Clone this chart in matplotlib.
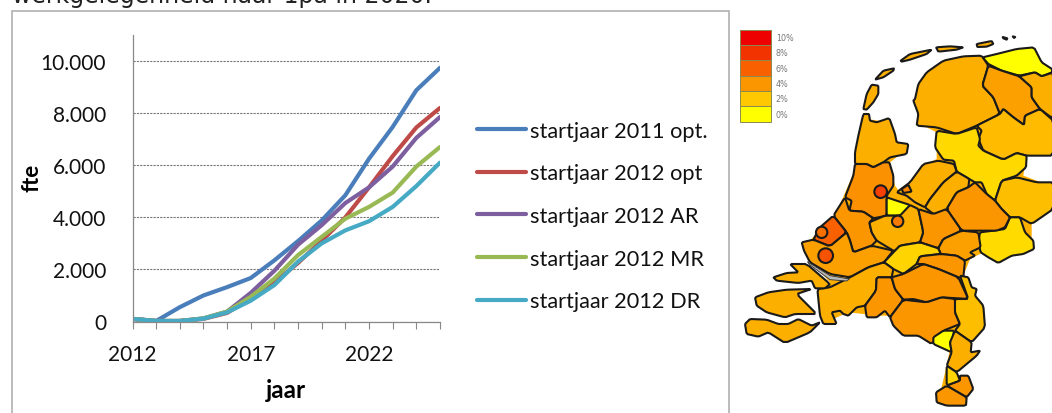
import matplotlib
matplotlib.use('Agg')
import matplotlib.pyplot as plt
from matplotlib.colors import LinearSegmentedColormap
from matplotlib.patches import Rectangle, Polygon, Circle

W, H = 1052, 414

# line chart
years = list(range(2012, 2026))
start_2011_opt = [100, 20, 550, 1000, 1320, 1670, 2350, 3090, 3880, 4850, 6250, 7470, 8880, 9740]
start_2012_opt = [100, 20, 20, 100, 330, 900, 1500, 2250, 3100, 4000, 5150, 6350, 7450, 8200]
start_2012_ar = [100, 20, 20, 120, 380, 1100, 1950, 2950, 3700, 4550, 5150, 5950, 7050, 7850]
start_2012_mr = [100, 20, 20, 120, 380, 950, 1650, 2550, 3250, 3950, 4400, 4950, 5950, 6700]
start_2012_dr = [100, 20, 20, 110, 350, 800, 1400, 2300, 3000, 3500, 3850, 4400, 5200, 6100]
series_labels = ['startjaar 2011 opt.', 'startjaar 2012 opt', 'startjaar 2012 AR',
                 'startjaar 2012 MR', 'startjaar 2012 DR']
series_colors = ['#4a7ebb', '#be4b48', '#7d5fa0', '#98b954', '#46aac5']
y_ticks = [0, 2000, 4000, 6000, 8000, 10000]
y_tick_labels = ['0', '2.000', '4.000', '6.000', '8.000', '10.000']
x_label_years = [2012, 2017, 2022]

# map: share per region, outlines
legend_shares = [10, 8, 6, 4, 2, 0]
legend_colors = ['#ee0000', '#f23300', '#f86000', '#fb9600', '#ffc800', '#ffff00']

regions = {
    'Texel': (3, [(400, 270), (410, 225), (425, 197), (445, 200), (445, 225), (430, 250), (410, 272)]),
    'Vlieland': (3, [(435, 182), (460, 155), (492, 148), (490, 155), (460, 175)]),
    'Terschelling': (3, [(512, 125), (540, 105), (605, 92), (590, 105), (540, 122), (515, 128)]),
    'Ameland': (3, [(618, 85), (660, 82), (700, 85), (680, 92), (625, 98)]),
    'Schiermonnikoog': (3, [(740, 75), (785, 66), (790, 75), (770, 83), (742, 84)]),
    'Rottum1': (3, [(818, 54), (832, 58), (830, 62), (820, 58)]),
    'Rottum2': (3, [(848, 52), (856, 54), (852, 57)]),
    'Friesland': (3, [(555, 240), (565, 195), (590, 160), (640, 125), (700, 112), (755, 110), (775, 140),
                      (757, 200), (790, 235), (810, 285), (740, 320), (680, 345), (620, 325), (560, 320),
                      (565, 285), (550, 245)]),
    'Noord-Groningen': (0, [(758, 115), (800, 105), (860, 90), (912, 85), (935, 130), (966, 150), (966, 160),
                            (935, 172), (915, 160), (868, 170), (815, 155), (775, 135)]),
    'Overig Groningen': (3.6, [(775, 140), (815, 155), (868, 172), (905, 205), (905, 235), (930, 270), (885, 290),
                               (882, 318), (850, 295), (820, 270), (810, 285), (790, 235), (757, 200)]),
    'Oost-Groningen': (3, [(868, 172), (915, 160), (935, 172), (970, 160), (970, 300), (930, 270), (905, 235),
                           (905, 205)]),
    'Drenthe': (2.5, [(810, 285), (820, 270), (850, 295), (882, 318), (885, 290), (930, 270), (970, 305),
                      (970, 410), (890, 410), (860, 402), (820, 422), (760, 395), (745, 360), (755, 335),
                      (740, 320)]),
    'Noord-Overijssel': (1.4, [(620, 335), (680, 345), (740, 325), (750, 360), (745, 380), (760, 395), (820, 422),
                               (860, 402), (890, 410), (888, 445), (860, 470), (815, 485), (795, 545), (770, 525),
                               (755, 490), (735, 490), (718, 480), (680, 458), (672, 425), (640, 422), (615, 385)]),
    'Twente': (2.4, [(795, 545), (815, 485), (860, 475), (920, 490), (970, 490), (970, 570), (905, 615), (870, 595),
                     (840, 595), (815, 570)]),
    'Achterhoek': (1.3, [(750, 640), (790, 635), (825, 630), (840, 595), (870, 595), (885, 640), (910, 665),
                         (912, 690), (880, 705), (845, 710), (805, 732), (775, 715), (752, 700), (745, 670)]),
    'Flevoland': (3, [(500, 520), (540, 490), (580, 435), (625, 425), (672, 435), (680, 458), (640, 490), (600, 540),
                      (585, 565), (555, 550), (530, 530)]),
    'Almere': (4.6, [(515, 510), (535, 497), (545, 518), (520, 522)]),
    'Zuid-Flevoland': (3, [(585, 565), (600, 540), (640, 490), (680, 458), (718, 480), (715, 505), (680, 520),
                           (650, 570), (640, 585), (610, 585)]),
    'Veluwe': (4, [(650, 570), (695, 635), (740, 635), (800, 635), (825, 625), (840, 595), (815, 570), (795, 545),
                   (770, 525), (735, 490), (715, 505), (680, 520)]),
    'Kop van Noord-Holland': (3, [(375, 400), (385, 350), (400, 285), (417, 285), (420, 305), (440, 310), (478, 297),
                                  (495, 345), (500, 370), (535, 375), (530, 405), (480, 415), (460, 430), (430, 445),
                                  (410, 435), (375, 435)]),
    'Groot-Amsterdam': (4.2, [(375, 435), (410, 435), (430, 445), (460, 430), (478, 430), (490, 470), (490, 500),
                              (470, 530), (470, 590), (430, 598), (400, 578), (358, 575), (365, 545), (345, 535),
                              (370, 470)]),
    'Oost-Zuid-Holland': (4, [(345, 535), (358, 575), (400, 578), (430, 598), (418, 610), (425, 640), (440, 665),
                              (425, 680), (370, 700), (360, 665), (350, 640), (310, 590)]),
    'Leiden': (6, [(310, 590), (350, 640), (300, 682), (250, 662), (270, 625)]),
    'Groot-Rijnmond': (3.6, [(215, 670), (250, 662), (300, 682), (350, 640), (360, 665), (370, 700), (425, 680),
                             (490, 695), (462, 730), (415, 745), (360, 775), (300, 765), (240, 730), (222, 695)]),
    'Gooi': (0, [(470, 535), (500, 545), (540, 558), (535, 575), (510, 590), (470, 590)]),
    'Utrecht': (3, [(418, 610), (465, 590), (510, 590), (540, 558), (565, 570), (580, 640), (570, 670), (510, 680),
                    (495, 695), (490, 695), (440, 665), (425, 640)]),
    'Arnhem-Noord': (4, [(565, 570), (610, 585), (650, 570), (695, 635), (640, 660), (625, 688), (570, 670),
                         (580, 640)]),
    'Arnhem': (3.6, [(625, 688), (640, 660), (695, 635), (745, 640), (752, 685), (720, 700), (735, 710), (705, 725),
                     (680, 710), (632, 705)]),
    'Rivierenland': (1.6, [(462, 730), (495, 695), (510, 680), (570, 670), (625, 688), (632, 705), (570, 712),
                           (560, 735), (520, 765), (490, 750)]),
    'Nijmegen': (4, [(560, 735), (570, 712), (632, 705), (680, 710), (705, 725), (700, 775), (685, 775), (625, 750),
                     (580, 735)]),
    'West-Brabant': (3, [(262, 810), (300, 805), (360, 775), (415, 745), (462, 730), (490, 750), (485, 775),
                         (440, 775), (438, 815), (405, 860), (380, 865), (355, 890), (340, 885), (330, 875),
                         (305, 880), (320, 915), (280, 915), (270, 890)]),
    'Midden-Brabant': (4, [(440, 775), (485, 775), (495, 810), (520, 842), (480, 895), (465, 875), (440, 895),
                           (410, 895), (405, 860), (438, 815)]),
    'Noordoost-Brabant': (4, [(485, 775), (520, 765), (580, 735), (625, 750), (685, 775), (715, 840), (635, 835),
                              (590, 850), (550, 840), (520, 842), (495, 810)]),
    'Zuidoost-Brabant': (4, [(520, 842), (590, 850), (635, 835), (675, 840), (675, 880), (690, 915), (640, 935),
                             (605, 975), (565, 950), (520, 950), (490, 920), (480, 895)]),
    'Noord-Limburg': (2.4, [(690, 770), (715, 775), (725, 805), (740, 810), (735, 830), (760, 860), (765, 925),
                            (725, 970), (675, 935), (690, 915), (675, 880), (675, 840), (715, 840)]),
    'Weert': (0, [(610, 955), (640, 935), (672, 935), (668, 960), (660, 970), (665, 1000), (610, 975)]),
    'Midden-Limburg': (3, [(675, 935), (725, 970), (722, 1000), (750, 995), (740, 1010), (680, 1060), (650, 1040),
                           (665, 1000), (660, 970)]),
    'Sittard': (1.6, [(650, 1040), (680, 1060), (690, 1085), (650, 1100)]),
    'Heerlen': (4, [(690, 1070), (715, 1070), (730, 1110), (710, 1135), (650, 1100), (690, 1085)]),
    'Maastricht': (4, [(618, 1120), (650, 1100), (710, 1135), (708, 1160), (650, 1160), (620, 1150)]),
    'Goeree': (3, [(130, 775), (170, 762), (205, 760), (180, 735), (230, 735), (300, 795), (285, 808), (255, 808),
                   (245, 785), (205, 792), (140, 785)]),
    'Beveland': (3, [(75, 835), (115, 820), (170, 812), (245, 810), (200, 825), (260, 885), (195, 885), (165, 895),
                     (110, 880), (80, 860)]),
    'Zeeuws-Vlaanderen': (3, [(45, 915), (60, 900), (110, 902), (145, 915), (175, 915), (205, 900), (245, 920),
                              (270, 910), (240, 940), (165, 972), (115, 940), (85, 953), (50, 945)]),
}
# filled behind the regions so no slivers stay white between them
land_fill = [(380, 440), (410, 300), (480, 310), (500, 380), (525, 395), (480, 430), (495, 500), (510, 520),
             (580, 440), (620, 420), (620, 340), (560, 310), (570, 200), (640, 135), (755, 120), (810, 110),
             (900, 95), (960, 160), (960, 400), (890, 400), (880, 470), (960, 500), (960, 560), (905, 600),
             (905, 670), (810, 720), (760, 700), (720, 720), (700, 770), (750, 860), (755, 925), (720, 965),
             (720, 990), (680, 1050), (700, 1130), (650, 1150), (630, 1125), (650, 1040), (660, 990), (610, 970),
             (560, 945), (520, 945), (480, 890), (440, 890), (400, 885), (355, 880), (310, 900), (285, 905),
             (270, 880), (270, 800), (300, 790), (240, 725), (225, 680), (320, 580)]
# large cities drawn as round blobs: centre x, y, radius, share
cities = {
    'Amsterdam': (452, 518, 19, 7.4),
    'Utrecht stad': (503, 607, 17, 5),
    'Den Haag': (275, 640, 17, 5.4),
    'Rotterdam': (287, 710, 22, 6.6),
}
river = [(232, 728), (300, 770), (358, 780), (350, 786), (300, 782), (240, 738)]
cut_title_text = 'werkgelegenheid naar 1pa in 2020.'


def round_corners(points, cut=0.1):
    # cut every corner once so the traced outlines look less angular
    out = []
    for i, (x0, y0) in enumerate(points):
        x1, y1 = points[(i + 1) % len(points)]
        out.append((x0 + cut * (x1 - x0), y0 + cut * (y1 - y0)))
        out.append((x1 - cut * (x1 - x0), y1 - cut * (y1 - y0)))
    return out


fig = plt.figure(figsize=(W / 100, H / 100), dpi=100)
fig.patch.set_facecolor('white')
plt.rcParams['font.family'] = ['Lato', 'DejaVu Sans']


def fig_box(left, top, right, bottom):
    return [left / W, 1 - bottom / H, (right - left) / W, (bottom - top) / H]


# grey frame round the chart, runs off the bottom
fig.add_artist(Rectangle((12 / W, -0.05), 717 / W, 1.05 - 11.5 / H, transform=fig.transFigure,
                         fill=False, edgecolor='#b0b0b0', linewidth=1.2))
fig.text(12 / W, 1 - 3.5 / H, cut_title_text, family='DejaVu Sans', fontsize=17, color='#222222',
         ha='left', va='baseline')

ax = fig.add_axes(fig_box(132.5, 36, 440, 322.5))
all_series = [start_2011_opt, start_2012_opt, start_2012_ar, start_2012_mr, start_2012_dr]
for values, label, color in zip(all_series, series_labels, series_colors):
    ax.plot(years, values, color=color, linewidth=3, label=label, solid_capstyle='round')
ax.set_xlim(2012, 2025)
ax.set_ylim(0, 11000)
ax.set_yticks(y_ticks, y_tick_labels, fontsize=15, color='#111111')
ax.set_xticks(years, [str(y) if y in x_label_years else '' for y in years], fontsize=15, color='#111111')
ax.tick_params(axis='y', length=0, pad=19)
ax.tick_params(axis='x', length=5, width=0.8, color='#888888', pad=11)
ax.grid(axis='y', color='#777777', linewidth=0.8, linestyle=(0, (2, 1)))
ax.set_axisbelow(True)
for side in ['top', 'right']:
    ax.spines[side].set_visible(False)
for side in ['left', 'bottom']:
    ax.spines[side].set_color('#888888')
    ax.spines[side].set_linewidth(0.9)
fig.text(32 / W, 1 - 178 / H, 'fte', fontsize=16, fontweight='bold', rotation=90, ha='center', va='center')
fig.text(286 / W, 1 - 391 / H, 'jaar', fontsize=17.5, fontweight='bold', ha='center', va='center')

ax.legend(loc='center left', bbox_to_anchor=(477 / W, 1 - 217 / H), bbox_transform=fig.transFigure,
          frameon=False, fontsize=15.7, handlelength=2.25, handletextpad=0.18, labelspacing=1.04,
          borderpad=0, borderaxespad=0, labelcolor='#111111')

# map panel, coordinates are traced on a 3x grid
share_cmap = LinearSegmentedColormap.from_list(
    'share', [(s / 10, c) for s, c in sorted(zip(legend_shares, legend_colors))])
ax_map = fig.add_axes([730 / W, 0, 322 / W, 394 / H])
ax_map.set_xlim(0, 966)
ax_map.set_ylim(1182, 0)
ax_map.axis('off')

ax_map.add_patch(Polygon(land_fill, closed=True, facecolor=share_cmap(0.3), edgecolor='none'))
for name, (share, outline) in regions.items():
    ax_map.add_patch(Polygon(round_corners(outline), closed=True, facecolor=share_cmap(share / 10),
                             edgecolor='#1a1a1a', linewidth=1.5, joinstyle='round'))
ax_map.add_patch(Polygon(river, closed=True, facecolor='#b8b8b8', edgecolor='#333333', linewidth=0.6))
for name, (cx, cy, r, share) in cities.items():
    ax_map.add_patch(Circle((cx, cy), r, facecolor=share_cmap(share / 10), edgecolor='#1a1a1a', linewidth=1.5))

# legend of the map
box_h = 46
for i, (share, color) in enumerate(zip(legend_shares, legend_colors)):
    top = 32 + i * box_h
    ax_map.add_patch(Rectangle((30, top), 92, box_h, facecolor=color, edgecolor='#8a8a50', linewidth=0.7))
    ax_map.text(137, top + box_h / 2, f'{share}%', fontsize=5.8, color='#777777', va='center', ha='left',
                family='DejaVu Sans')

fig.savefig('out.png', dpi=100)
